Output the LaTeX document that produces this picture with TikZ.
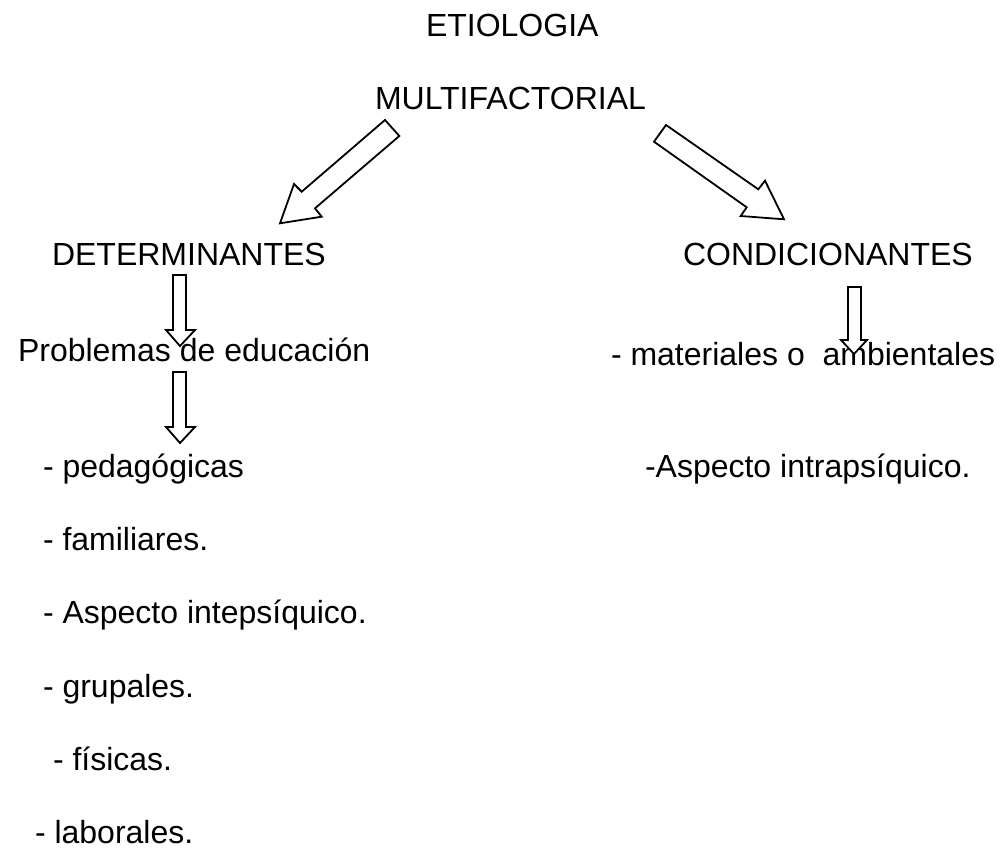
\documentclass[tikz,border=0pt]{standalone}
\usepackage{fontspec}
\setmainfont{Liberation Sans}
\begin{document}
\begin{tikzpicture}[x=1pt,y=-1pt,
  txt/.style={anchor=base west,inner sep=0pt,outer sep=0pt,font=\fontsize{32}{38}\selectfont},
  blockarrow/.style={draw=black,line width=1.8pt,fill=white,line join=miter}]
\useasboundingbox (0,0) rectangle (1000,848);
% texts
\node[txt] (etio) at (426,37) {ETIOLOGIA};
\node[txt] (multi) at (375,110) {MULTIFACTORIAL};
\node[txt] (det) at (52,265) {DETERMINANTES};
\node[txt] (cond) at (683,265) {CONDICIONANTES};
\node[txt] (prob) at (18,361) {Problemas de educación};
\node[txt] (mat) at (611,365) {- materiales o\ \ ambientales};
\node[txt] (ped) at (43,477) {- pedagógicas};
\node[txt] (intra) at (645,477) {-Aspecto intrapsíquico.};
\node[txt] (fam) at (43,550) {- familiares.};
\node[txt] (inte) at (43,623) {- Aspecto intepsíquico.};
\node[txt] (grup) at (43,697) {- grupales.};
\node[txt] (fis) at (53,770) {- físicas.};
\node[txt] (lab) at (35,843) {- laborales.};
% diagonal block arrows
\draw[blockarrow] (385,120) -- (301.7,191.7) -- (294,184) -- (280,223.3) -- (321.7,216.7) -- (315,208.3) -- (399.3,136) -- cycle;
\draw[blockarrow] (666,125) -- (758.3,189.3) -- (765,180.7) -- (784,219.3) -- (740.7,216) -- (746.7,207.3) -- (654,141.7) -- cycle;
% vertical block arrows
\draw[blockarrow] (173,275) -- (186,275) -- (186,330) -- (195,330) -- (180,346) -- (166,330) -- (173,330) -- cycle;
\draw[blockarrow] (173,372) -- (186,372) -- (186,427) -- (195,427) -- (180,443) -- (166,427) -- (173,427) -- cycle;
\draw[blockarrow] (848,287) -- (861,287) -- (861,340) -- (867,340) -- (854,354) -- (841,340) -- (848,340) -- cycle;
\end{tikzpicture}
\end{document}
